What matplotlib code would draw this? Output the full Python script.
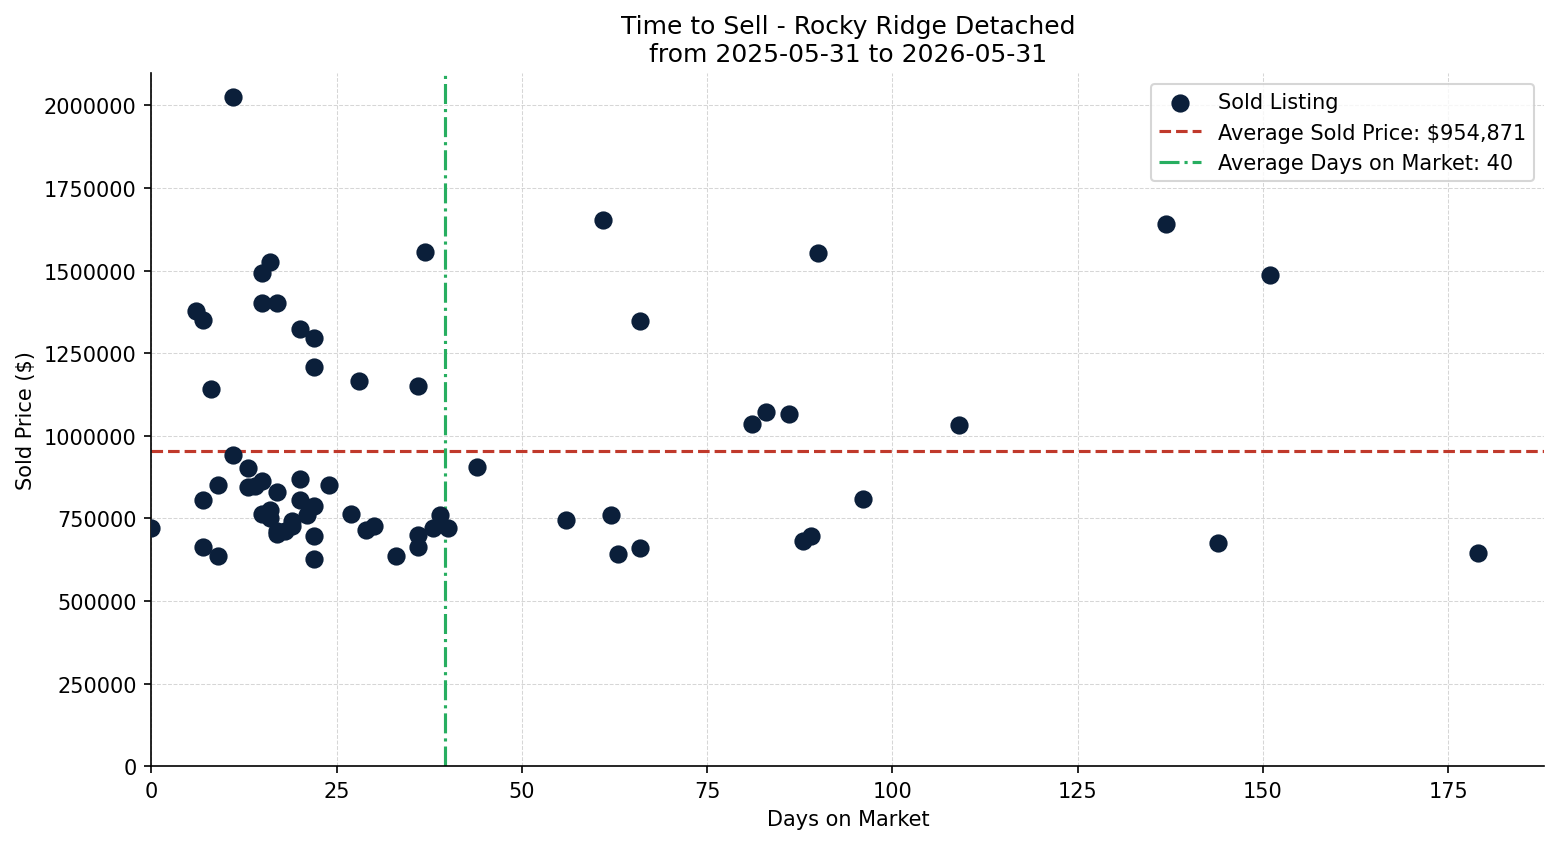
import matplotlib
matplotlib.use("Agg")
import matplotlib.pyplot as plt

# ---------- Data ----------
days_on_market = [
    11, 6, 7, 8, 15, 16, 15, 17, 20, 22, 22, 28, 36, 37,
    0, 11, 13, 9, 7, 13, 14, 15, 20, 24, 17, 20, 22, 21, 16, 15, 16, 19,
    17, 18, 19, 17, 22, 22, 7, 9, 27, 29, 30, 33, 36, 36, 38, 39, 40, 44,
    56, 61, 62, 63, 66, 66, 81, 83, 86, 88, 89, 90, 96, 109, 137, 144, 151, 179,
]
sold_prices = [
    2027000, 1377000, 1352000, 1141000, 1492000, 1525000, 1401000, 1401000,
    1322000, 1295000, 1207000, 1165000, 1150000, 1555000,
    720000, 941000, 902000, 850000, 805000, 844000, 847000, 862000, 868000,
    850000, 829000, 805000, 787000, 760000, 775000, 762000, 750000, 741000,
    702000, 711000, 726000, 711000, 696000, 626000, 663000, 635000, 762000,
    714000, 726000, 635000, 699000, 663000, 720000, 760000, 720000, 905000,
    744000, 1652000, 760000, 641000, 1349000, 660000, 1035000, 1071000,
    1065000, 681000, 696000, 1552000, 808000, 1032000, 1640000, 675000,
    1486000, 644000,
]
avg_price = 954871
avg_days = 39.7

# ---------- Plotting ----------
fig, ax = plt.subplots(figsize=(10.4, 5.633), dpi=150)
fig.subplots_adjust(left=0.097, right=0.99, top=0.912, bottom=0.092)

ax.scatter(days_on_market, sold_prices, s=60, color="#0b1f3a", zorder=3,
           label="Sold Listing")
ax.axhline(avg_price, color="#c0392b", linestyle="--", linewidth=1.5,
           label=f"Average Sold Price: ${avg_price:,.0f}")
ax.axvline(avg_days, color="#27ae60", linestyle="-.", linewidth=1.5,
           label=f"Average Days on Market: {avg_days:.0f}")

ax.set_title("Time to Sell - Rocky Ridge Detached\nfrom 2025-05-31 to 2026-05-31")
ax.set_xlabel("Days on Market")
ax.set_ylabel("Sold Price ($)")
ax.set_xlim(0, 188)
ax.set_ylim(0, 2097000)
ax.ticklabel_format(axis="y", style="plain", useOffset=False)
ax.grid(True, linestyle="--", color="#cccccc", linewidth=0.5, alpha=0.8)
ax.spines["top"].set_visible(False)
ax.spines["right"].set_visible(False)
ax.legend(loc="upper right")

fig.savefig("out.png")
